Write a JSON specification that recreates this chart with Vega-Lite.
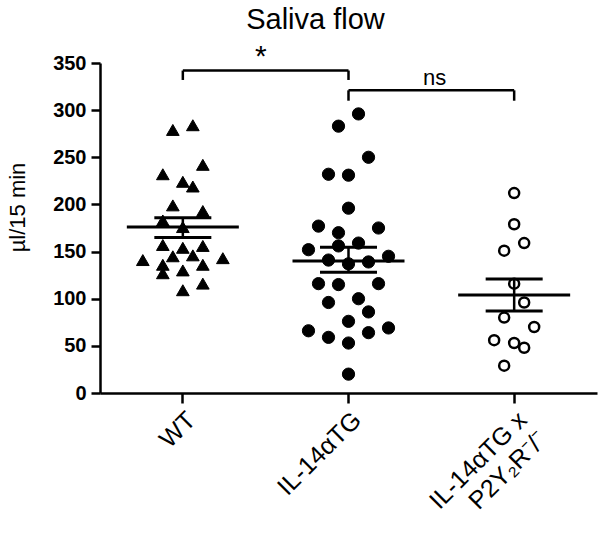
{
  "$schema": "https://vega.github.io/schema/vega-lite/v6.json",
  "width": 497,
  "height": 330,
  "autosize": {"type": "none"},
  "padding": {"left": 100, "top": 63, "right": 3, "bottom": 142},
  "background": "white",
  "title": {"text": "Saliva flow", "fontSize": 29, "font": "Liberation Sans", "fontWeight": "normal", "anchor": "middle", "dx": -33, "offset": 7, "color": "black", "frame": "group"},
  "config": {"view": {"stroke": null}, "axis": {"grid": false, "domainColor": "black", "tickColor": "black", "labelColor": "black", "titleColor": "black", "domainWidth": 2.5, "tickWidth": 2.5, "labelFont": "Liberation Sans", "titleFont": "Liberation Sans"}},
  "datasets": {
    "points": [
      {"group": "WT", "value": 279, "slot": -1},
      {"group": "WT", "value": 284, "slot": 1},
      {"group": "WT", "value": 242, "slot": 2},
      {"group": "WT", "value": 232, "slot": -2},
      {"group": "WT", "value": 224, "slot": 0},
      {"group": "WT", "value": 219, "slot": 1},
      {"group": "WT", "value": 199, "slot": -1},
      {"group": "WT", "value": 193, "slot": 2},
      {"group": "WT", "value": 183, "slot": -2},
      {"group": "WT", "value": 176, "slot": 0},
      {"group": "WT", "value": 157, "slot": -2},
      {"group": "WT", "value": 154, "slot": 0},
      {"group": "WT", "value": 156, "slot": 2},
      {"group": "WT", "value": 141, "slot": -4},
      {"group": "WT", "value": 145, "slot": -1},
      {"group": "WT", "value": 146, "slot": 1},
      {"group": "WT", "value": 143, "slot": 4},
      {"group": "WT", "value": 136, "slot": -2},
      {"group": "WT", "value": 127, "slot": -2},
      {"group": "WT", "value": 136, "slot": 2},
      {"group": "WT", "value": 130, "slot": 0},
      {"group": "WT", "value": 116, "slot": 2},
      {"group": "WT", "value": 109, "slot": 0},
      {"group": "IL-14αTG", "value": 296, "slot": 1},
      {"group": "IL-14αTG", "value": 283, "slot": -1},
      {"group": "IL-14αTG", "value": 250, "slot": 2},
      {"group": "IL-14αTG", "value": 232, "slot": -2},
      {"group": "IL-14αTG", "value": 231, "slot": 0},
      {"group": "IL-14αTG", "value": 196, "slot": 0},
      {"group": "IL-14αTG", "value": 177, "slot": -3},
      {"group": "IL-14αTG", "value": 175, "slot": 3},
      {"group": "IL-14αTG", "value": 170, "slot": -1},
      {"group": "IL-14αTG", "value": 156, "slot": -1},
      {"group": "IL-14αTG", "value": 159, "slot": 1},
      {"group": "IL-14αTG", "value": 152, "slot": -4},
      {"group": "IL-14αTG", "value": 141, "slot": -2},
      {"group": "IL-14αTG", "value": 137, "slot": 0},
      {"group": "IL-14αTG", "value": 139, "slot": 2},
      {"group": "IL-14αTG", "value": 145, "slot": 4},
      {"group": "IL-14αTG", "value": 116, "slot": -3},
      {"group": "IL-14αTG", "value": 115, "slot": -1},
      {"group": "IL-14αTG", "value": 116, "slot": 3},
      {"group": "IL-14αTG", "value": 96, "slot": -2},
      {"group": "IL-14αTG", "value": 100, "slot": 1},
      {"group": "IL-14αTG", "value": 86, "slot": 2},
      {"group": "IL-14αTG", "value": 76, "slot": 0},
      {"group": "IL-14αTG", "value": 66, "slot": -4},
      {"group": "IL-14αTG", "value": 59, "slot": -2},
      {"group": "IL-14αTG", "value": 53, "slot": 0},
      {"group": "IL-14αTG", "value": 64, "slot": 2},
      {"group": "IL-14αTG", "value": 69, "slot": 4},
      {"group": "IL-14αTG", "value": 20, "slot": 0},
      {"group": "IL-14αTG x P2Y₂R⁻/⁻", "value": 212, "slot": 0},
      {"group": "IL-14αTG x P2Y₂R⁻/⁻", "value": 179, "slot": 0},
      {"group": "IL-14αTG x P2Y₂R⁻/⁻", "value": 159, "slot": 1},
      {"group": "IL-14αTG x P2Y₂R⁻/⁻", "value": 151, "slot": -1},
      {"group": "IL-14αTG x P2Y₂R⁻/⁻", "value": 116, "slot": 0},
      {"group": "IL-14αTG x P2Y₂R⁻/⁻", "value": 96, "slot": 1},
      {"group": "IL-14αTG x P2Y₂R⁻/⁻", "value": 80, "slot": -1},
      {"group": "IL-14αTG x P2Y₂R⁻/⁻", "value": 70, "slot": 2},
      {"group": "IL-14αTG x P2Y₂R⁻/⁻", "value": 56, "slot": -2},
      {"group": "IL-14αTG x P2Y₂R⁻/⁻", "value": 53, "slot": 0},
      {"group": "IL-14αTG x P2Y₂R⁻/⁻", "value": 48, "slot": 1},
      {"group": "IL-14αTG x P2Y₂R⁻/⁻", "value": 29, "slot": -1}
    ],
    "stats": [
      {"group": "WT", "mean": 176, "lo": 165, "hi": 186},
      {"group": "IL-14αTG", "mean": 140, "lo": 128, "hi": 154.5},
      {"group": "IL-14αTG x P2Y₂R⁻/⁻", "mean": 104, "lo": 87, "hi": 121}
    ],
    "brackets": [
      {"from": "WT", "to": "IL-14αTG", "top": 342, "bottom": 332, "label": "*", "labelValue": 356, "labelSlot": 7.8},
      {"from": "IL-14αTG", "to": "IL-14αTG x P2Y₂R⁻/⁻", "top": 321, "bottom": 310, "label": "ns", "labelValue": 334, "labelSlot": 8.6}
    ]
  },
  "layer": [
    {
      "data": {"name": "points"},
      "transform": [{"filter": "datum.group != 'IL-14αTG x P2Y₂R⁻/⁻'"}],
      "mark": {"type": "point", "filled": true, "opacity": 1, "color": "black", "stroke": "black", "strokeWidth": 1},
      "encoding": {
        "x": {"field": "group", "type": "nominal", "sort": ["WT", "IL-14αTG", "IL-14αTG x P2Y₂R⁻/⁻"],
          "scale": {"type": "band", "paddingInner": 0, "paddingOuter": 0, "domain": ["WT", "IL-14αTG", "IL-14αTG x P2Y₂R⁻/⁻"]},
          "axis": {"title": null, "labelAngle": -45, "labelFontSize": 25, "tickSize": 10, "labelPadding": 4, "labelLineHeight": 28,
            "labelExpr": "datum.label == 'IL-14αTG x P2Y₂R⁻/⁻' ? ['IL-14αTG x', 'P2Y₂R⁻/⁻'] : datum.label"}},
        "xOffset": {"field": "slot", "type": "quantitative", "scale": {"domain": [-8.28, 8.28]}},
        "y": {"field": "value", "type": "quantitative", "scale": {"domain": [0, 350]},
          "axis": {"title": "µl/15 min", "values": [0, 50, 100, 150, 200, 250, 300, 350], "labelFontSize": 20, "labelFontWeight": "bold", "tickSize": 9, "labelPadding": 5,
            "titleFontSize": 22, "titleFontWeight": "normal", "titleAngle": -90, "titleX": -83, "titleY": 144, "titleAlign": "center", "titleBaseline": "middle"}},
        "shape": {"field": "group", "type": "nominal", "scale": {"domain": ["WT", "IL-14αTG"], "range": ["triangle-up", "circle"]}, "legend": null},
        "size": {"field": "group", "type": "nominal", "scale": {"domain": ["WT", "IL-14αTG"], "range": [160, 150]}, "legend": null}
      }
    },
    {
      "data": {"name": "points"},
      "transform": [{"filter": "datum.group == 'IL-14αTG x P2Y₂R⁻/⁻'"}],
      "mark": {"type": "point", "shape": "circle", "filled": false, "opacity": 1, "stroke": "black", "strokeWidth": 2.5, "size": 100, "fill": "white", "fillOpacity": 0},
      "encoding": {
        "x": {"field": "group", "type": "nominal"},
        "xOffset": {"field": "slot", "type": "quantitative"},
        "y": {"field": "value", "type": "quantitative"}
      }
    },
    {
      "data": {"name": "stats"},
      "mark": {"type": "rule", "color": "black", "strokeWidth": 2.5},
      "encoding": {
        "x": {"field": "group", "type": "nominal"},
        "y": {"field": "lo", "type": "quantitative"},
        "y2": {"field": "hi"}
      }
    },
    {
      "data": {"name": "stats"},
      "mark": {"type": "tick", "color": "black", "thickness": 3, "size": 112, "opacity": 1},
      "encoding": {
        "x": {"field": "group", "type": "nominal"},
        "y": {"field": "mean", "type": "quantitative"}
      }
    },
    {
      "data": {"name": "stats"},
      "transform": [{"fold": ["lo", "hi"], "as": ["bound", "bval"]}],
      "mark": {"type": "tick", "color": "black", "thickness": 3, "size": 57, "opacity": 1},
      "encoding": {
        "x": {"field": "group", "type": "nominal"},
        "y": {"field": "bval", "type": "quantitative"}
      }
    },
    {
      "data": {"name": "brackets"},
      "mark": {"type": "rule", "color": "black", "strokeWidth": 2.5},
      "encoding": {
        "x": {"field": "from", "type": "nominal"},
        "x2": {"field": "to"},
        "y": {"field": "top", "type": "quantitative"}
      }
    },
    {
      "data": {"name": "brackets"},
      "transform": [{"fold": ["from", "to"], "as": ["end", "grp"]}],
      "mark": {"type": "rule", "color": "black", "strokeWidth": 2.5},
      "encoding": {
        "x": {"field": "grp", "type": "nominal"},
        "y": {"field": "top", "type": "quantitative"},
        "y2": {"field": "bottom"}
      }
    },
    {
      "data": {"name": "brackets"},
      "transform": [{"filter": "datum.label == '*'"}],
      "mark": {"type": "text", "color": "black", "font": "Liberation Sans", "fontSize": 30, "baseline": "middle", "align": "center"},
      "encoding": {
        "x": {"field": "from", "type": "nominal"},
        "xOffset": {"field": "labelSlot", "type": "quantitative"},
        "y": {"field": "labelValue", "type": "quantitative"},
        "text": {"field": "label"}
      }
    },
    {
      "data": {"name": "brackets"},
      "transform": [{"filter": "datum.label == 'ns'"}],
      "mark": {"type": "text", "color": "black", "font": "Liberation Sans", "fontSize": 22, "baseline": "middle", "align": "center"},
      "encoding": {
        "x": {"field": "from", "type": "nominal"},
        "xOffset": {"field": "labelSlot", "type": "quantitative"},
        "y": {"field": "labelValue", "type": "quantitative"},
        "text": {"field": "label"}
      }
    }
  ]
}
